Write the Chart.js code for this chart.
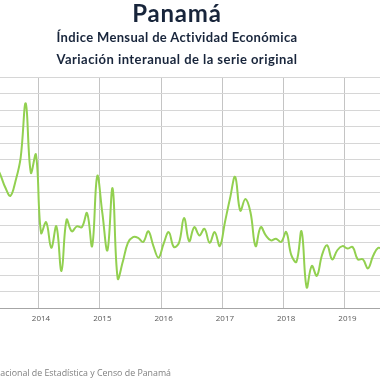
<!DOCTYPE html>
<html>
<head>
<meta charset="utf-8">
<script src="https://cdn.jsdelivr.net/npm/chart.js@4.4.1/dist/chart.umd.min.js"></script>
<style>
  html,body{margin:0;padding:0;background:#fff;}
  body{width:380px;height:380px;overflow:hidden;position:relative;}
  #c{position:absolute;left:0;top:0;}
  .t{position:absolute;left:0;width:354px;text-align:center;white-space:nowrap;color:#18253b;font-family:Lato,"Open Sans",sans-serif;font-weight:bold;}
  #src{position:absolute;right:209px;top:366px;white-space:nowrap;color:#7f7f7f;font-family:"Open Sans",sans-serif;font-size:9px;line-height:14px;}
</style>
</head>
<body>
<canvas id="c" width="380" height="380"></canvas>
<div class="t" style="top:0px;font-size:24px;line-height:26px;letter-spacing:0.8px;">Panamá</div>
<div class="t" style="top:29px;font-size:13px;line-height:16px;letter-spacing:0.35px;">Índice Mensual de Actividad Económica</div>
<div class="t" style="top:51px;font-size:13px;line-height:16px;letter-spacing:0.45px;">Variación interanual de la serie original</div>
<div id="src">Fuente: Instituto N<span id="vis">acional de Estadística y Censo de Panamá</span></div>
<script>
const months = [
 '2013-04','2013-05','2013-06','2013-07','2013-08','2013-09','2013-10','2013-11','2013-12',
 '2014-01','2014-02','2014-03','2014-04','2014-05','2014-06','2014-07','2014-08','2014-09','2014-10','2014-11','2014-12',
 '2015-01','2015-02','2015-03','2015-04','2015-05','2015-06','2015-07','2015-08','2015-09','2015-10','2015-11','2015-12',
 '2016-01','2016-02','2016-03','2016-04','2016-05','2016-06','2016-07','2016-08','2016-09','2016-10','2016-11','2016-12',
 '2017-01','2017-02','2017-03','2017-04','2017-05','2017-06','2017-07','2017-08','2017-09','2017-10','2017-11','2017-12',
 '2018-01','2018-02','2018-03','2018-04','2018-05','2018-06','2018-07','2018-08','2018-09','2018-10','2018-11','2018-12',
 '2019-01','2019-02','2019-03','2019-04','2019-05','2019-06','2019-07','2019-08'
];
const imaeVariation = [
 8.7, 8.1, 7.3, 6.8, 7.7, 9.1, 12.4, 8.2, 9.3,
 4.55, 5.2, 3.65, 4.95, 2.25, 5.35, 4.65, 4.95, 4.9, 5.75, 3.75, 8.0,
 5.75, 3.5, 7.25, 1.8, 2.8, 3.95, 4.3, 4.25, 4.0, 4.65, 3.75, 3.05,
 3.9, 4.6, 3.7, 3.95, 5.45, 4.05, 4.9, 4.4, 4.8, 3.95, 4.6, 3.75,
 5.2, 6.65, 7.95, 5.9, 6.6, 5.8, 3.75, 4.9, 4.4, 4.1, 4.2, 4.0,
 4.6, 3.2, 2.8, 4.65, 1.25, 2.55, 1.95, 3.2, 3.8, 2.95, 3.5, 3.75,
 3.6, 3.7, 2.95, 2.95, 2.4, 3.15, 3.65, 3.5
];
const yearLabels = ['2014','2015','2016','2017','2018','2019'];
const yMin = 0, yMax = 14, yStep = 1;

// fit the source line so that its visible part ends where the reference's does
(function(){
  const src = document.getElementById('src'), vis = document.getElementById('vis');
  const w = vis.getBoundingClientRect().width;
  src.style.fontSize = (9 * 171 / w).toFixed(2) + 'px';
})();

// month index relative to January 2014
const monthIndex = m => (parseInt(m.slice(0,4)) - 2014) * 12 + (parseInt(m.slice(5,7)) - 1);
const points = months.map((m, i) => ({ x: monthIndex(m), y: imaeVariation[i] }));
const yearGridPos = yearLabels.map(y => (parseInt(y) - 2014) * 12 - 0.5);

new Chart(document.getElementById('c'), {
  type: 'line',
  data: {
    datasets: [{
      data: points,
      borderColor: '#92d050',
      borderWidth: 2,
      pointRadius: 0,
      tension: 0.4,
      fill: false
    }]
  },
  options: {
    responsive: false,
    devicePixelRatio: 1,
    animation: false,
    layout: { padding: { top: 77, bottom: 52, left: 0, right: 0 } },
    plugins: { legend: { display: false }, tooltip: { enabled: false }, title: { display: false } },
    scales: {
      x: {
        type: 'linear',
        min: -8.04,
        max: 66.36,
        afterBuildTicks: s => { s.ticks = yearGridPos.map(v => ({ value: v })); },
        afterFit: s => { s.height = 20; },
        ticks: {
          callback: (v, i) => yearLabels[i],
          autoSkip: false,
          maxRotation: 0,
          padding: 6,
          labelOffset: 2.5,
          color: '#595959',
          font: { family: 'Open Sans', size: 8 }
        },
        grid: { color: '#c4c4c4', lineWidth: 1, drawTicks: false },
        border: { display: false }
      },
      y: {
        min: yMin,
        max: yMax,
        afterBuildTicks: s => { const t = []; for (let v = yMin; v <= yMax; v += yStep) t.push({ value: v }); s.ticks = t; },
        ticks: { display: false },
        grid: { color: c => (c.tick && c.tick.value === 0) ? '#a6a6a6' : '#d6d6d6', lineWidth: 1, drawTicks: false },
        border: { display: false }
      }
    }
  }
});
</script>
</body>
</html>
